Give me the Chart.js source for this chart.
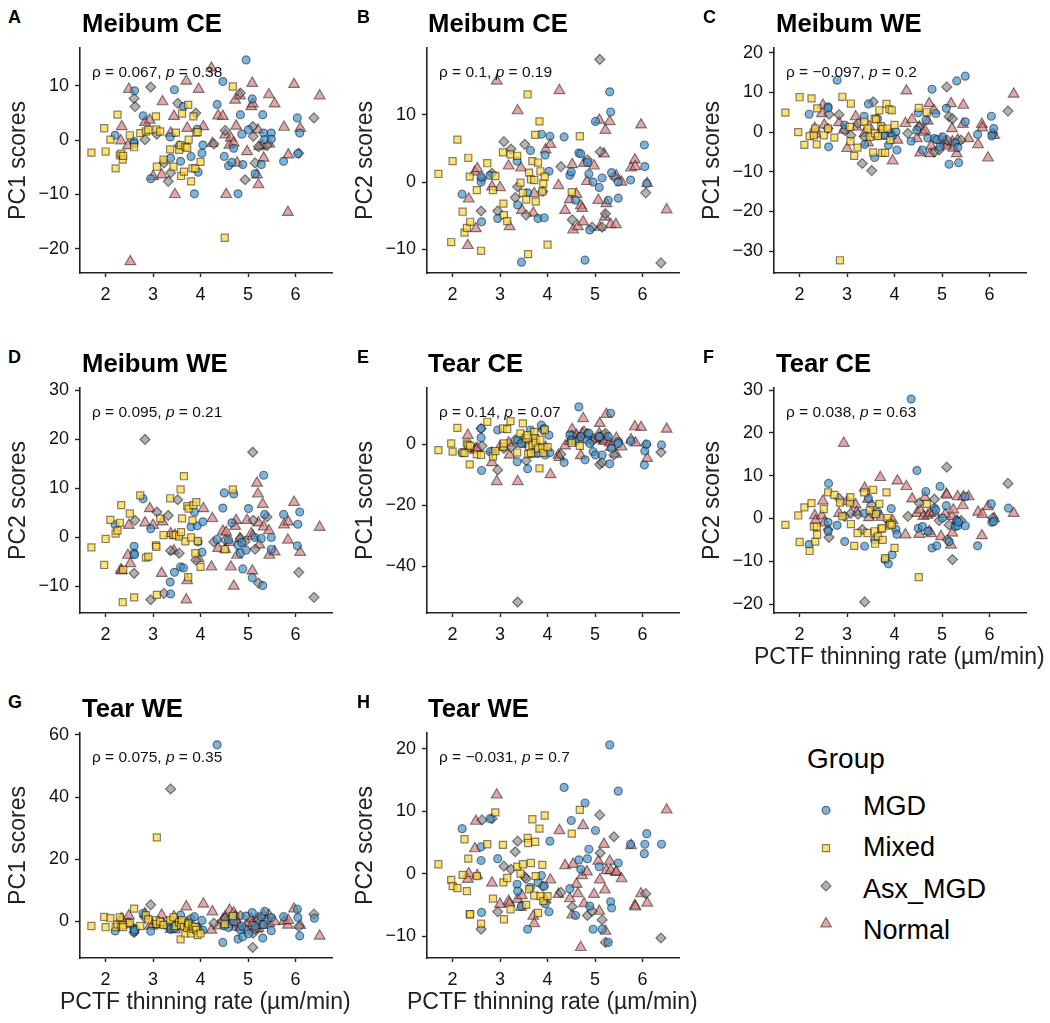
<!DOCTYPE html>
<html>
<head>
<meta charset="utf-8">
<script src="https://cdn.jsdelivr.net/npm/chart.js@4/dist/chart.umd.js"></script>
<style>
  html, body { margin: 0; padding: 0; background: #fff; }
  body { width: 1050px; height: 1023px; position: relative; overflow: hidden; font-family: "Liberation Sans", Arial, sans-serif; color: #000; filter: blur(0.35px); }
  canvas { position: absolute; }
  .txt { position: absolute; white-space: nowrap; line-height: 1; }
  .letter { font-size: 18px; font-weight: bold; }
  .title { font-size: 25.7px; font-weight: bold; }
  .rho { font-size: 15.5px; color: #111; }
  .xtitle { font-size: 23px; color: #222; }
  .legend-title { font-size: 28px; }
  .legend-label { font-size: 27px; }
</style>
</head>
<body>
<script>
// thinning rate, same for every panel (one list per group)
const mgdX = [2.20,2.60,2.60,2.61,2.79,2.95,3.36,3.37,3.45,3.58,3.64,3.80,3.87,3.93,3.95,4.03,4.05,4.35,4.47,4.50,4.59,4.66,4.70,4.79,4.84,4.87,4.89,4.96,5.01,5.09,5.15,5.28,5.31,5.33,5.35,5.49,5.49,5.75,6.04,6.05,6.09,6.40];
const mixedX = [1.70,1.97,2.00,2.10,2.21,2.25,2.30,2.33,2.36,2.37,2.51,2.60,2.73,2.85,2.90,3.06,3.07,3.08,3.15,3.22,3.36,3.43,3.48,3.55,3.58,3.59,3.61,3.65,3.68,3.72,3.74,3.75,3.80,3.83,3.85,3.89,3.91,3.94,4.00,4.51,4.68];
const asxX = [2.60,2.62,2.83,2.95,3.08,3.23,3.32,3.37,3.52,3.55,3.90,4.28,4.52,4.84,4.94,5.10,5.11,5.15,5.22,5.40,6.07,6.39];
const normalX = [2.32,2.34,2.47,2.49,2.52,2.83,2.93,3.00,3.18,3.20,3.37,3.44,3.46,3.70,3.72,3.96,4.06,4.23,4.25,4.37,4.47,4.52,4.54,4.61,4.64,4.70,4.73,4.75,4.77,4.83,4.98,5.07,5.09,5.10,5.19,5.21,5.22,5.24,5.31,5.33,5.44,5.45,5.56,5.76,5.84,5.85,5.97,6.10,6.51];

// A Meibum CE PC1
const aMgd = [0.9,-0.2,-0.6,9.1,4.5,-7.1,0.6,-3.3,9.3,-3.9,6.2,-3.0,-9.9,2.0,-5.9,-2.4,-0.9,6.6,10.8,-3.0,-4.7,-4.1,-1.5,-9.9,4.7,1.1,-4.5,14.8,1.9,7.6,-6.2,-4.5,4.7,1.3,0.1,1.3,0.2,-3.9,4.1,-2.5,1.3,null];
const aMixed = [-2.3,2.2,-2.1,0.1,-5.2,4.7,-2.8,-2.5,-3.6,-2.9,0.9,-1.3,1.3,1.6,1.9,4.4,2.0,-4.9,1.6,-3.6,-1.7,-4.9,1.4,-1.8,-0.9,-6.6,4.9,-5.8,-1.2,-1.4,6.5,0.1,-7.6,-5.2,4.4,-5.2,1.4,1.5,-4.0,-18.0,9.9];
const aAsx = [7.7,6.2,0.1,9.8,1.1,-4.2,-7.6,-6.0,6.8,-1.0,5.0,-0.7,1.8,8.7,-7.3,2.5,0.7,-4.2,-1.2,-1.0,-2.4,4.1];
const aNormal = [-0.1,2.5,-1.0,9.4,-22.4,3.3,3.7,-6.7,-6.4,7.1,1.3,4.4,-10.0,10.9,2.2,9.4,2.5,13.3,-0.6,4.5,4.4,1.0,-10.0,-0.9,0.4,-0.5,7.4,2.6,-4.2,8.2,-2.1,6.2,10.5,6.7,-6.4,1.9,-8.2,-1.2,-1.0,-3.3,8.4,-0.7,6.7,2.4,-13.3,-2.7,10.3,2.2,8.2];

// B Meibum CE PC2
const bMgd = [-1.8,0.0,0.8,-5.9,1.0,-5.4,3.1,-3.4,-11.9,-1.6,4.7,-5.4,7.1,-5.3,4.0,1.6,6.8,6.7,1.0,1.5,-2.7,4.3,4.2,-11.6,2.9,1.2,-7.1,0.0,9.0,-0.8,0.6,-2.7,13.4,10.4,1.4,-2.4,0.0,0.3,5.5,2.3,-0.2,null];
const bMixed = [1.2,-8.9,3.1,6.3,-4.4,-7.5,-6.8,3.6,0.8,-5.9,-1.2,-10.2,2.8,-1.2,0.9,4.4,-3.2,-4.9,-5.8,4.1,3.9,-0.1,-1.6,-2.6,13.0,-10.7,1.4,0.4,3.1,0.3,7.0,-2.9,2.9,9.0,1.6,-1.4,-0.2,0.8,-9.3,-1.5,6.8];
const bAsx = [-4.3,0.5,1.3,-4.3,6.0,4.9,-2.3,-0.7,5.6,-4.9,-1.4,2.3,-5.6,3.3,-6.7,18.2,4.5,-6.7,-4.7,0.8,-1.6,-12.0];
const bNormal = [-9.4,-2.5,1.5,-6.9,2.0,-0.7,15.0,-0.8,2.4,-6.6,10.6,2.1,-4.2,-4.6,-1.7,4.8,5.6,-0.5,13.6,-4.2,-2.6,2.6,-7.1,-1.8,-6.6,-3.5,-3.9,-5.9,2.8,0.1,2.4,-2.7,9.2,-6.7,4.2,-5.2,7.7,-3.2,9.0,-6.3,-6.3,0.9,0.0,2.1,3.3,2.3,8.5,-0.2,-4.1];

// C Meibum WE PC1
const cMgd = [4.5,6.4,6.1,-3.7,13.1,1.8,4.0,-3.1,7.1,-6.4,3.4,-0.8,-3.3,-0.3,-1.0,0.1,-4.5,-2.3,0.5,4.9,-4.5,3.0,-1.5,10.8,-1.6,4.7,-1.9,-3.7,-1.2,6.0,-8.1,-2.7,12.9,-3.9,-7.7,14.1,2.6,-0.6,4.0,-1.0,0.9,null];
const cMixed = [4.9,0.0,8.8,-3.2,-1.0,8.5,-0.8,0.9,-3.1,6.0,-0.8,0.9,-1.4,-32.3,8.9,1.3,-2.3,7.2,-6.0,-3.9,2.6,0.9,-1.2,-5.1,3.4,-0.3,3.2,-1.0,5.5,1.5,-5.2,0.8,-5.2,7.1,0.9,5.8,-2.0,5.5,1.8,6.1,5.0];
const cAsx = [0.9,4.5,4.4,0.5,-0.8,2.2,-7.9,-1.2,-9.7,7.6,-0.3,-0.3,1.3,-5.0,-4.5,11.4,-2.0,3.9,3.4,-2.0,-0.3,5.3];
const cNormal = [1.0,-0.5,4.7,6.8,1.8,2.4,0.5,-4.1,3.9,1.3,-0.3,-2.7,1.5,-1.0,0.8,-7.2,-2.0,2.2,10.4,3.2,-1.6,1.3,-5.2,0.0,0.5,2.8,7.2,-5.4,-3.5,5.5,-2.0,-2.4,-3.0,-3.5,7.2,0.9,-2.4,-4.0,-5.4,-2.0,2.0,6.8,-1.6,-3.1,2.0,1.1,-6.5,-0.8,9.6];

// D Meibum WE PC2
const dMgd = [2.6,-1.8,-3.2,-3.5,7.9,1.8,-9.1,-11.5,-7.1,-6.0,-6.2,2.2,5.2,2.4,-0.9,-3.0,3.2,-0.4,6.0,9.1,-0.5,3.0,8.9,-1.6,-3.2,-1.0,-6.4,-2.6,5.9,-8.2,0.0,-0.2,-9.8,12.7,4.7,-2.4,0.0,4.7,-1.7,2.7,5.2,null];
const dMixed = [-2.0,-5.6,-0.3,3.6,0.8,1.4,3.0,6.6,-13.2,-6.6,4.9,-12.2,8.6,-4.1,-3.9,-1.6,-1.9,-11.7,3.9,0.5,8.0,0.5,0.5,0.2,9.8,1.1,3.9,12.5,-0.8,6.4,-8.1,5.9,0.0,3.5,6.6,-3.2,7.2,-0.7,-6.0,-2.4,9.8];
const dAsx = [-7.3,3.5,20.0,-12.7,5.2,-11.4,4.5,-2.7,7.7,-3.2,-4.6,-0.9,-0.5,-0.2,-0.8,17.4,3.5,-2.4,-9.3,4.2,-7.1,-12.2];
const dNormal = [-6.6,-6.8,-3.6,2.5,-5.3,3.0,5.9,2.5,-7.3,3.2,0.8,-2.7,0.5,-12.7,-8.8,-4.3,5.9,-6.0,3.9,-2.2,1.3,-2.4,1.1,-1.0,-6.0,-9.9,2.3,3.5,-3.6,-0.2,3.5,0.8,-6.8,0.3,11.1,8.9,3.0,-1.5,6.8,2.2,1.4,-3.6,-2.9,2.6,-0.5,3.2,7.2,-3.0,2.1];

// E Tear CE PC1
const eMgd = [-2.7,5.2,2.2,-8.6,-2.4,4.7,-5.7,1.4,0.3,-8.0,4.7,-2.9,6.3,5.2,-3.5,3.0,-2.7,-6.0,3.0,1.4,0.9,12.3,2.5,-5.1,1.4,3.6,0.3,-2.4,-3.5,2.5,-3.5,2.5,-6.4,10.2,-1.3,0.9,0.3,1.1,-6.8,-2.2,0.1,-0.2];
const eMixed = [-1.9,0.3,-2.4,5.4,-2.7,-2.9,0.3,-0.2,-6.6,-0.5,-3.3,-3.5,7.4,-4.0,-2.2,5.2,-0.8,0.3,5.0,7.6,-2.7,3.6,6.9,2.0,3.0,-3.2,-0.8,-2.9,-0.2,4.1,2.0,0.5,-1.3,-7.9,1.5,-1.3,-2.8,4.8,-0.9,0.5,-0.5];
const eAsx = [5.2,-0.5,-2.5,-8.4,-1.3,-1.0,1.5,-51.8,0.5,-5.4,4.7,-3.3,3.0,3.5,1.0,-6.6,2.5,-6.0,3.6,-3.5,-0.2,-2.6];
const eNormal = [3.0,-1.3,-1.9,-1.5,-1.3,-6.0,-12.2,-0.8,0.5,-3.5,-12.2,0.1,1.5,-3.2,1.0,-1.0,-9.9,-3.5,-4.3,-0.5,1.0,4.9,2.0,3.0,1.5,-3.7,3.6,8.5,4.0,3.0,1.5,2.0,3.5,6.9,1.0,1.5,2.5,9.9,0.5,-1.0,-3.2,2.0,-0.8,1.5,5.8,0.5,5.6,-4.6,5.0];

// F Tear CE PC2
const fMgd = [-6.1,-0.9,-3.0,8.2,-1.6,-5.4,1.2,-6.5,4.7,-5.0,1.5,-9.6,-10.6,2.3,-8.5,-2.6,-3.7,27.9,11.2,-2.3,-1.9,6.3,-3.0,-6.9,2.4,2.0,-6.4,7.5,0.1,3.0,-5.4,-1.9,-0.5,-1.7,-0.8,5.1,-1.7,-6.4,3.4,-0.9,-0.7,2.4];
const fMixed = [-1.5,0.7,-5.5,2.6,-7.6,3.6,-1.9,-5.4,-1.9,-3.8,2.2,6.1,5.5,3.7,0.5,3.7,5.0,-1.3,-6.4,-3.4,6.1,-3.4,1.9,6.7,-3.0,-5.9,1.0,-4.2,3.4,-2.4,-2.3,-5.0,-9.3,6.1,0.1,-1.7,-1.2,-1.5,-6.9,-13.7,3.4];
const fAsx = [-2.6,-4.4,4.7,0.5,1.2,1.0,-2.6,-19.5,3.2,1.0,-1.0,0.5,3.6,4.5,-0.5,12.0,-5.0,-1.5,-9.6,-0.5,0.1,8.2];
const fNormal = [0.7,-0.5,0.6,4.1,-1.0,1.2,17.6,4.0,3.2,1.5,7.1,4.5,0.2,9.6,0.3,-0.5,8.8,-3.8,7.5,4.6,1.2,-3.7,2.0,0.5,4.9,0.8,-3.0,1.2,-3.5,1.5,-4.2,1.0,5.7,5.5,-6.2,0.5,-3.4,2.0,-0.5,5.1,3.0,5.1,5.1,1.5,-4.0,1.0,2.8,0.0,1.2];

// G Tear WE PC1
const gMgd = [-3.1,-2.5,-3.4,-2.8,2.6,-3.2,-1.5,-2.5,-2.2,2.0,-1.5,0.8,1.5,-2.0,-2.3,0.3,-2.8,56.8,-6.8,-1.5,-2.0,1.0,0.0,-5.7,-2.8,-1.5,-5.0,1.7,-4.0,2.8,-1.5,1.5,-5.4,-1.0,3.2,1.2,-3.0,1.5,3.9,1.2,-4.7,1.0];
const gMixed = [-1.5,1.4,-1.9,1.0,-1.9,-1.0,1.3,-1.7,-1.2,-1.9,-0.5,4.1,-1.5,2.0,0.6,0.4,-0.8,27.0,-0.1,-1.2,0.4,1.3,-1.5,-0.3,-5.8,-1.2,0.4,-1.8,-3.9,-2.2,-0.5,-1.0,-3.9,-1.6,-2.4,-1.8,-2.8,-4.4,-3.9,-0.9,1.7];
const gAsx = [-3.6,-2.5,1.2,5.3,-1.0,-0.8,-1.7,42.6,-0.5,-0.8,-2.4,-0.6,1.0,1.8,-2.5,-8.4,-3.8,-2.5,0.5,0.5,-1.7,2.3];
const gNormal = [0.5,0.9,-0.5,1.8,-1.0,2.5,-1.5,-1.0,2.0,-1.0,-2.6,1.5,-2.7,4.7,-0.5,-2.3,5.6,-2.8,3.1,-1.4,0.5,1.5,-0.3,3.6,-1.0,2.8,1.5,-1.8,-0.4,-2.0,-0.8,0.8,-1.5,-0.5,-2.5,1.0,-2.2,-0.2,-1.3,1.9,2.0,-0.6,-0.1,0.0,-1.2,0.3,4.0,-1.3,-4.7];

// H Tear WE PC2
const hMgd = [7.2,4.3,2.1,-6.2,8.8,2.4,-1.7,-2.8,-5.2,-8.9,-2.2,-1.4,-0.3,-2.0,-4.8,-6.1,5.2,13.8,-2.4,8.5,-6.7,2.2,0.7,11.3,2.4,3.9,-5.2,-8.9,6.9,1.1,-8.9,-11.0,20.6,-4.5,-5.5,13.2,1.7,4.7,3.2,4.7,6.4,4.7];
const hMixed = [1.5,-1.0,-2.0,-2.3,-0.2,5.5,-2.8,2.4,-6.5,-6.5,-0.4,-8.0,4.7,-4.0,9.8,4.6,-1.4,-7.3,-0.7,-5.7,1.1,0.0,1.5,-5.0,5.7,4.9,-2.5,1.7,8.7,-3.5,5.1,-0.4,-6.3,7.2,-3.6,1.4,-4.4,9.3,-3.6,6.4,10.2];
const hAsx = [-8.9,8.6,8.8,-6.1,1.2,0.7,3.5,5.2,-0.5,-0.8,-2.0,-3.0,-5.3,-6.7,-6.0,9.4,3.3,-7.4,-11.0,5.9,-3.2,-10.3];
const hNormal = [-0.9,0.0,4.0,8.4,-0.3,-1.5,12.6,-4.9,-4.4,-4.8,-4.1,-5.4,-3.5,-6.8,-8.0,-4.2,-1.0,-3.3,6.9,1.3,-4.0,-6.6,1.5,-1.7,-3.2,-11.8,-0.3,7.7,-4.8,0.3,-3.3,2.0,-6.0,-1.0,4.7,-2.6,-9.2,0.5,2.0,0.5,0.2,0.3,-0.8,4.5,-5.1,-5.3,-3.2,-4.7,10.2];

const xTicks = [2, 3, 4, 5, 6];
const groupNames = ['MGD', 'Mixed', 'Asx_MGD', 'Normal'];
const xTitle = 'PCTF thinning rate (µm/min)';

const panels = [
  { letter: 'A', title: 'Meibum CE', yTitle: 'PC1 scores', rho: '0.067', p: '0.38', col: 0, row: 0, ticks: [-20, -10, 0, 10], yMin: -24.5, yMax: 17, y: [aMgd, aMixed, aAsx, aNormal] },
  { letter: 'B', title: 'Meibum CE', yTitle: 'PC2 scores', rho: '0.1', p: '0.19', col: 1, row: 0, ticks: [-10, 0, 10], yMin: -13.5, yMax: 19.9, y: [bMgd, bMixed, bAsx, bNormal] },
  { letter: 'C', title: 'Meibum WE', yTitle: 'PC1 scores', rho: '−0.097', p: '0.2', col: 2, row: 0, ticks: [-30, -20, -10, 0, 10, 20], yMin: -35.5, yMax: 21.2, y: [cMgd, cMixed, cAsx, cNormal] },
  { letter: 'D', title: 'Meibum WE', yTitle: 'PC2 scores', rho: '0.095', p: '0.21', col: 0, row: 1, ticks: [-10, 0, 10, 20, 30], yMin: -15.4, yMax: 30.5, y: [dMgd, dMixed, dAsx, dNormal] },
  { letter: 'E', title: 'Tear CE', yTitle: 'PC1 scores', rho: '0.14', p: '0.07', col: 1, row: 1, ticks: [-40, -20, 0], yMin: -55.4, yMax: 18.5, y: [eMgd, eMixed, eAsx, eNormal] },
  { letter: 'F', title: 'Tear CE', yTitle: 'PC2 scores', rho: '0.038', p: '0.63', col: 2, row: 1, ticks: [-20, -10, 0, 10, 20, 30], yMin: -22.1, yMax: 30.5, y: [fMgd, fMixed, fAsx, fNormal], xLabel: true },
  { letter: 'G', title: 'Tear WE', yTitle: 'PC1 scores', rho: '0.075', p: '0.35', col: 0, row: 2, ticks: [0, 20, 40, 60], yMin: -11.8, yMax: 60.6, y: [gMgd, gMixed, gAsx, gNormal], xLabel: true },
  { letter: 'H', title: 'Tear WE', yTitle: 'PC2 scores', rho: '−0.031', p: '0.7', col: 1, row: 2, ticks: [-10, 0, 10, 20], yMin: -13.5, yMax: 22.5, y: [hMgd, hMixed, hAsx, hNormal], xLabel: true }
];

const xLists = [mgdX, mixedX, asxX, normalX];
const styles = [
  { pointStyle: 'circle', pointRadius: 4, backgroundColor: 'rgba(60,145,205,0.68)' },
  { pointStyle: 'rect', pointRadius: 5, backgroundColor: 'rgba(255,215,60,0.72)' },
  { pointStyle: 'rectRot', pointRadius: 5, backgroundColor: 'rgba(130,130,130,0.62)' },
  { pointStyle: 'triangle', pointRadius: 6.2, backgroundColor: 'rgba(215,120,120,0.66)' }
];
const edge = 'rgba(0,0,0,0.48)';

// pixel layout of the figure
const colLeft = [0, 347, 694];
const rowTop = [34, 374, 719];
const letterLeft = [8, 357, 703];
const titleLeft = [82, 428, 776];
const rhoLeft = [92, 439, 786];
const xTitleLeft = [60, 407, 754];

function addText(cls, left, top, html) {
  const d = document.createElement('div');
  d.className = 'txt ' + cls;
  d.style.left = left + 'px';
  d.style.top = top + 'px';
  d.innerHTML = html;
  document.body.appendChild(d);
}

function addCanvas(left, top, w, h) {
  const c = document.createElement('canvas');
  c.width = w;
  c.height = h;
  c.style.left = left + 'px';
  c.style.top = top + 'px';
  document.body.appendChild(c);
  return c;
}

function minusLabel(v) {
  return v < 0 ? '−' + Math.abs(v) : String(v);
}

function drawPanel(p) {
  // y scale wants label height/2 + tick padding above the plot, so leave 20px there
  const canvas = addCanvas(colLeft[p.col], rowTop[p.row] - 6, 356, 305);
  // later groups go underneath, chart.js paints the first dataset last
  const order = [1, 0, 2, 3];
  const datasets = order.map(i => ({
    label: groupNames[i],
    data: xLists[i].map((x, k) => ({ x: x, y: p.y[i][k] })),
    pointStyle: styles[i].pointStyle,
    pointRadius: styles[i].pointRadius,
    backgroundColor: styles[i].backgroundColor,
    borderColor: edge,
    borderWidth: 1.2
  }));
  new Chart(canvas.getContext('2d'), {
    type: 'scatter',
    data: { datasets: datasets },
    options: {
      responsive: false,
      animation: false,
      layout: { padding: { top: 20, right: 24, bottom: 0, left: 0 } },
      plugins: { legend: { display: false }, tooltip: { enabled: false } },
      scales: {
        x: {
          min: 1.46, max: 6.77,
          afterBuildTicks: s => { s.ticks = xTicks.map(v => ({ value: v })); },
          afterFit: s => { s.height = 60; },
          border: { color: '#222', width: 1.6 },
          grid: { drawOnChartArea: false, tickColor: '#222', tickLength: 4, tickWidth: 1.4 },
          ticks: { color: '#111', font: { family: 'Liberation Sans', size: 18 }, padding: 7, maxRotation: 0 }
        },
        y: {
          min: p.yMin, max: p.yMax,
          afterBuildTicks: s => { s.ticks = p.ticks.map(v => ({ value: v })); },
          afterFit: s => { s.width = 80; },
          border: { color: '#222', width: 1.6 },
          grid: { drawOnChartArea: false, tickColor: '#222', tickLength: 5, tickWidth: 1.4 },
          ticks: { color: '#111', font: { family: 'Liberation Sans', size: 18 }, padding: 6, callback: minusLabel },
          title: { display: true, text: p.yTitle, color: '#222', font: { family: 'Liberation Sans', size: 23 }, padding: { top: 5, bottom: 0 } }
        }
      }
    }
  });
  const top = rowTop[p.row];
  addText('letter', letterLeft[p.col], top - 26, p.letter);
  addText('title', titleLeft[p.col], top - 23, p.title);
  addText('rho', rhoLeft[p.col], top + 30, 'ρ = ' + p.rho + ', <i>p</i> = ' + p.p);
  // scale titles get squeezed to the plot width by chart.js, so this one is html
  if (p.xLabel) addText('xtitle', xTitleLeft[p.col], top + 271, xTitle);
}

function drawLegend() {
  // one point per group, stacked, on hidden axes
  const rows = [0, 1, 2, 3];
  const canvas = addCanvas(796, 784, 60, 166);
  new Chart(canvas.getContext('2d'), {
    type: 'scatter',
    data: {
      datasets: rows.map(i => ({
        data: [{ x: 0, y: i }],
        pointStyle: styles[i].pointStyle,
        pointRadius: styles[i].pointRadius,
        backgroundColor: styles[i].backgroundColor,
        borderColor: edge,
        borderWidth: 1.2
      }))
    },
    options: {
      responsive: false,
      animation: false,
      plugins: { legend: { display: false }, tooltip: { enabled: false } },
      scales: {
        x: { display: false, min: -1, max: 1 },
        y: { display: false, min: -0.5, max: 3.5, reverse: true }
      }
    }
  });
  addText('legend-title', 807, 745, 'Group');
  groupNames.forEach((name, i) => addText('legend-label', 863, 793 + i * 41.3, name));
}

panels.forEach(drawPanel);
drawLegend();
</script>
</body>
</html>
